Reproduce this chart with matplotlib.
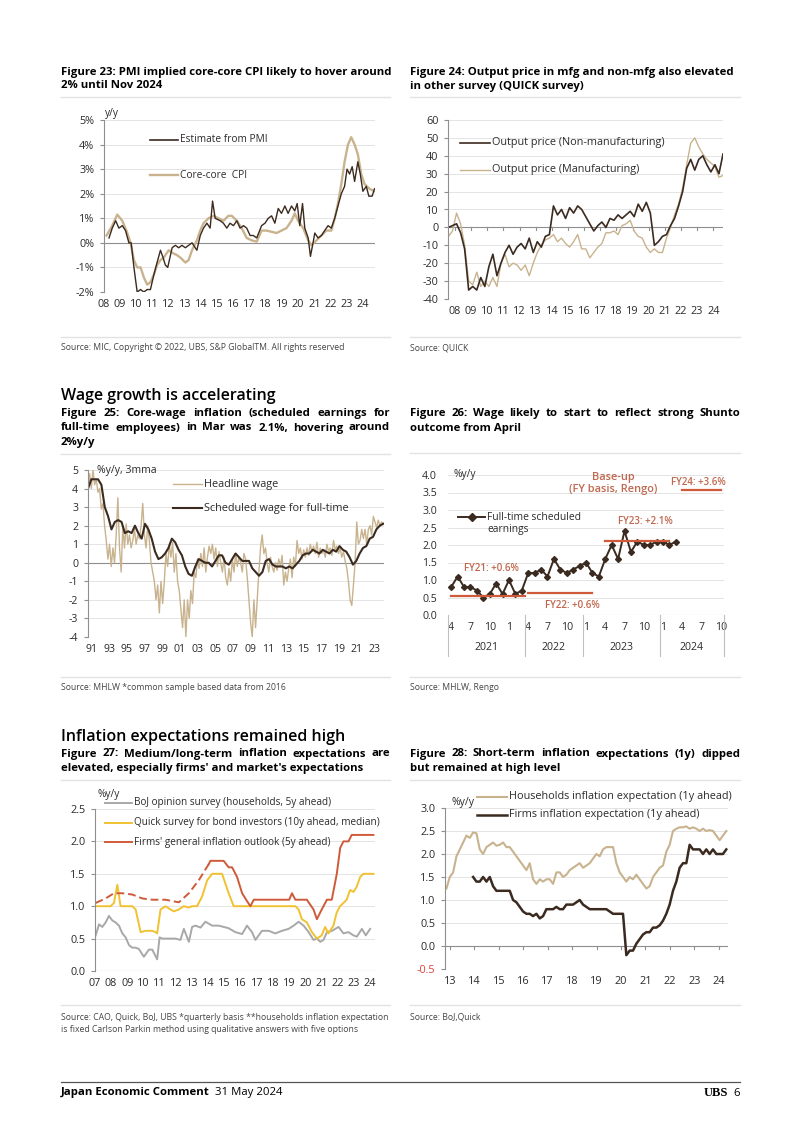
import numpy as np
import matplotlib
matplotlib.use("Agg")
import matplotlib.pyplot as plt
from matplotlib.lines import Line2D
import matplotlib.transforms as mtrans

plt.rcParams['font.family'] = ['Open Sans', 'DejaVu Sans']

# ---------------- data ----------------
# Fig 23: core-core CPI vs PMI estimate (% y/y)
cpi_years = [2008.16, 2008.51, 2008.82, 2009.13, 2009.44, 2009.64, 2009.85, 2010.05, 2010.26, 2010.46,
             2010.67, 2010.87, 2011.08, 2011.28, 2011.49, 2011.69, 2012.0, 2012.21, 2012.51, 2012.72,
             2013.03, 2013.23, 2013.44, 2013.74, 2013.95, 2014.15, 2014.46, 2014.77, 2015.08, 2015.38,
             2015.69, 2015.9, 2016.21, 2016.51, 2016.82, 2017.13, 2017.44, 2017.74, 2018.05, 2018.36,
             2018.67, 2018.97, 2019.28, 2019.59, 2019.79, 2020.0, 2020.31, 2020.62, 2020.82, 2021.13,
             2021.44, 2021.74, 2022.05, 2022.26, 2022.46, 2022.67, 2022.87, 2023.08, 2023.28, 2023.49,
             2023.69, 2023.9, 2024.1, 2024.41, 2024.72]
cpi_vals = [0.3, 0.7, 1.15, 0.9, 0.4, 0.0, -0.7, -1.0, -1.0, -1.4,
            -1.7, -1.6, -1.3, -0.9, -0.7, -0.6, -0.3, -0.4, -0.5, -0.6,
            -0.8, -0.7, -0.3, 0.1, 0.5, 0.8, 1.0, 1.1, 1.0, 0.9,
            1.1, 1.1, 0.9, 0.6, 0.2, 0.1, 0.05, 0.5, 0.5, 0.45,
            0.4, 0.5, 0.6, 0.9, 1.2, 0.9, 0.6, 0.1, -0.1, 0.1,
            0.3, 0.5, 0.5, 1.0, 1.6, 2.4, 3.3, 4.0, 4.3, 4.0,
            3.6, 2.8, 2.4, 2.2, 2.1]
pmi_years = [2008.31, 2008.51, 2008.72, 2008.92, 2009.13, 2009.33, 2009.54, 2009.68, 2009.85, 2010.05,
             2010.26, 2010.46, 2010.67, 2010.87, 2011.08, 2011.28, 2011.49, 2011.65, 2011.79, 2011.94,
             2012.21, 2012.41, 2012.62, 2012.82, 2013.03, 2013.23, 2013.44, 2013.64, 2013.74, 2013.95,
             2014.15, 2014.36, 2014.56, 2014.71, 2014.87, 2015.18, 2015.38, 2015.59, 2015.79, 2016.0,
             2016.21, 2016.41, 2016.62, 2016.82, 2017.03, 2017.23, 2017.44, 2017.74, 2017.95, 2018.15,
             2018.36, 2018.56, 2018.77, 2018.97, 2019.18, 2019.38, 2019.59, 2019.79, 2019.94, 2020.1,
             2020.27, 2020.41, 2020.62, 2020.76, 2020.92, 2021.03, 2021.23, 2021.44, 2021.64, 2021.85,
             2022.05, 2022.26, 2022.46, 2022.67, 2022.87, 2023.02, 2023.18, 2023.34, 2023.49, 2023.69,
             2023.84, 2024.0, 2024.21, 2024.37, 2024.57, 2024.72]
pmi_vals = [0.2, 0.6, 0.9, 0.6, 0.7, 0.5, 0.0, 0.0, -1.0, -2.0,
            -1.9, -2.0, -1.9, -1.9, -1.3, -0.8, -0.3, -0.6, -0.9, -1.0,
            -0.2, -0.1, -0.2, -0.1, -0.2, -0.1, 0.0, -0.2, -0.3, 0.3,
            0.6, 0.8, 0.6, 1.7, 1.0, 0.9, 0.8, 0.6, 0.8, 0.7,
            0.9, 0.6, 0.7, 0.6, 0.3, 0.3, 0.2, 0.7, 0.8, 1.0,
            1.1, 0.8, 1.4, 1.2, 1.5, 1.2, 1.5, 1.3, 1.6, 0.7,
            1.6, 0.6, 0.2, -0.55, 0.0, 0.4, 0.2, 0.3, 0.5, 0.7,
            0.6, 1.0, 1.5, 2.0, 2.3, 3.0, 2.8, 3.1, 2.5, 3.3,
            2.8, 2.1, 2.3, 1.9, 1.9, 2.2]

# Fig 24: QUICK survey output price DI, quarterly from 2007.6
quick_start, quick_end = 2007.6, 2024.6
nonmfg = [0, 1, 2, -3, -12, -35, -33, -35, -28, -33, -22, -15, -27, -20, -14, -10, -15, -11,
          -9, -12, -6, -14, -8, -11, -5, -4, 12, 7, 10, 5, 11, 8, 12, 10, 6, 2, -2, 1, 3, 0,
          5, 4, 7, 5, 7, 9, 6, 13, 9, 14, 8, -10, -8, -5, -4, 1, 5, 12, 20, 33, 38, 32, 38,
          40, 35, 31, 35, 30, 41]
mfg = [-5, -2, 8, 2, -10, -30, -32, -25, -33, -30, -33, -28, -33, -20, -15, -22, -20, -21,
       -24, -21, -27, -20, -14, -10, -7, -6, -4, -8, -6, -9, -11, -8, -4, -12, -12, -17, -14,
       -11, -9, -3, -3, -2, -4, 1, 2, 4, -2, -5, -6, -11, -14, -12, -14, -14, -6, 0, 7, 13,
       22, 35, 47, 50, 45, 41, 38, 36, 34, 28, 29]

# Fig 25: wages (% y/y, 3mma)
wage_start, wage_end = 1990.62, 2024.02
headline = [3.9, 4.8, 4.0, 5.0, 4.2, 4.5, 3.8, 4.0, 2.9, 3.2, 2.0, 1.2, 0.2, 1.0, -0.2, 0.8,
            0.0, 1.5, 3.5, 0.8, -0.5, 2.0, 0.8, 2.1, 1.0, 1.5, 0.8, 1.2, 1.8, 1.0, 1.5, 1.3,
            2.0, 3.2, 1.5, 0.8, 2.0, 1.2, 0.0, -0.5, -1.0, -2.0, -1.2, -2.7, -1.0, -2.2, -1.0,
            0.5, -0.2, 1.0, 0.3, 1.1, -0.5, 0.5, -1.0, -1.5, -2.5, -3.5, -2.0, -4.0, -2.0,
            -3.0, -1.5, -2.2, -0.5, -0.8, 0.2, -0.3, 0.5, -0.2, 0.8, -0.5, 0.3, 0.9, 0.5, 1.0,
            0.2, 0.8, -0.2, 0.6, 0.0, -0.5, 0.3, -0.8, -1.2, -0.3, -1.0, 0.2, -0.5, 0.5, -0.2,
            0.3, 0.0, -0.5, 0.5, 0.2, -0.8, -2.0, -3.2, -4.0, -2.0, -3.5, -2.0, -0.5, 0.8, 1.5,
            0.5, 0.8, 0.0, -0.5, 0.3, -0.2, -0.5, 0.0, -0.4, 0.2, -0.2, 0.4, -1.2, -0.5, -1.0,
            -0.3, 0.2, -0.8, 0.3, -0.2, 1.2, 0.5, 0.8, 0.2, 0.7, 0.3, 0.8, 0.4, 1.0, 0.6, 0.9,
            0.5, 1.1, 0.3, 0.8, 0.5, 0.7, 0.3, 1.0, 0.6, 0.8, 0.4, 1.2, 0.7, 0.9, 0.5, 0.8,
            0.3, 0.6, 0.1, -0.3, -1.0, -2.0, -2.3, -1.2, 0.0, 2.2, 1.0, 1.2, 1.8, 1.3, 1.8,
            1.0, 1.8, 2.0, 1.5, 2.5, 2.2, 1.9, 2.3, 2.0, 2.2, 2.1]
scheduled = [4.0, 4.5, 4.5, 4.5, 4.2, 3.0, 2.5, 1.8, 2.2, 2.3, 2.2, 1.6, 1.7, 1.6, 2.0, 1.6,
             1.3, 2.1, 1.8, 1.3, 0.6, 0.2, 0.3, 0.5, 0.8, 1.3, 1.1, 0.7, 0.4, -0.2, -0.6,
             -0.7, -0.2, 0.2, 0.1, 0.0, 0.0, -0.2, 0.1, 0.4, 0.4, 0.0, -0.1, 0.2, 0.5, 0.3,
             0.1, 0.1, 0.1, -0.3, -0.5, -0.7, -0.5, 0.1, 0.2, -0.1, -0.2, -0.2, -0.2, -0.3,
             -0.2, -0.3, -0.1, 0.1, 0.4, 0.5, 0.5, 0.7, 0.6, 0.5, 0.7, 0.6, 0.5, 0.7, 0.6,
             0.9, 0.7, 0.6, 0.3, -0.1, 0.1, 0.5, 0.8, 0.9, 1.3, 1.4, 1.8, 2.0, 2.1]

# Fig 26: full-time scheduled earnings, Apr 2021 - Mar 2024
ft_earnings = [0.8, 1.1, 0.8, 0.8, 0.7, 0.5, 0.6, 0.9, 0.6, 1.0, 0.6, 0.7,
               1.2, 1.2, 1.3, 1.1, 1.6, 1.3, 1.2, 1.3, 1.4, 1.5, 1.2, 1.1,
               1.6, 2.0, 1.6, 2.4, 1.8, 2.1, 2.0, 2.0, 2.1, 2.1, 2.0, 2.1]
month_ticks = ['4', '7', '10', '1', '4', '7', '10', '1', '4', '7', '10', '1', '4', '7', '10']
year_groups = ['2021', '2022', '2023', '2024']
year_bounds = [-0.5, 11.5, 20.5, 32.5, 42.5]
fy_labels = ['FY21: +0.6%', 'FY22: +0.6%', 'FY23: +2.1%', 'FY24: +3.6%']
fy_values = [0.55, 0.63, 2.12, 3.57]
fy_periods = [(0, 11.5), (12, 22), (24, 34), (36, 42)]

# Fig 27: medium/long-term inflation expectations
boj_years = [2007.04, 2007.25, 2007.45, 2007.66, 2007.86, 2008.07, 2008.27, 2008.48, 2008.69, 2008.89,
             2009.1, 2009.3, 2009.51, 2009.71, 2010.02, 2010.33, 2010.54, 2010.84, 2010.99, 2011.15,
             2011.56, 2011.97, 2012.28, 2012.49, 2012.8, 2013.0, 2013.21, 2013.52, 2013.82, 2014.24,
             2014.65, 2014.95, 2015.26, 2015.67, 2016.09, 2016.39, 2016.7, 2016.91, 2017.32, 2017.73,
             2018.14, 2018.55, 2018.96, 2019.27, 2019.58, 2019.89, 2020.2, 2020.5, 2020.71, 2020.92,
             2021.12, 2021.33, 2021.64, 2022.05, 2022.35, 2022.66, 2022.97, 2023.18, 2023.49, 2023.73,
             2024.0]
boj_vals = [0.55, 0.72, 0.68, 0.75, 0.85, 0.78, 0.75, 0.7, 0.58, 0.52,
            0.4, 0.36, 0.36, 0.34, 0.22, 0.33, 0.33, 0.18, 0.52, 0.5,
            0.5, 0.5, 0.48, 0.65, 0.45, 0.68, 0.7, 0.67, 0.76, 0.7,
            0.7, 0.68, 0.66, 0.6, 0.57, 0.7, 0.6, 0.48, 0.62, 0.62,
            0.58, 0.62, 0.65, 0.7, 0.76, 0.7, 0.6, 0.48, 0.5, 0.45,
            0.48, 0.6, 0.62, 0.68, 0.58, 0.6, 0.55, 0.53, 0.65, 0.55,
            0.65]
quick_years = [2007.04, 2007.97, 2008.17, 2008.38, 2008.58, 2009.3, 2009.51, 2009.82, 2010.13, 2010.54,
               2010.74, 2010.84, 2011.05, 2011.36, 2011.66, 2011.87, 2012.18, 2012.49, 2012.8, 2013.0,
               2013.31, 2013.62, 2013.93, 2014.24, 2014.85, 2015.26, 2015.57, 2019.38, 2019.58, 2019.78,
               2020.09, 2020.4, 2020.71, 2021.01, 2021.22, 2021.42, 2021.73, 2021.93, 2022.14, 2022.35,
               2022.55, 2022.76, 2022.97, 2023.17, 2023.38, 2023.58, 2024.2]
quick_vals = [1.0, 1.0, 1.05, 1.33, 1.0, 1.0, 0.95, 0.6, 0.62, 0.62,
              0.6, 0.58, 0.95, 1.0, 0.95, 0.92, 0.95, 1.0, 0.98, 1.0,
              1.0, 1.15, 1.4, 1.5, 1.5, 1.2, 1.0, 1.0, 0.95, 0.8,
              0.75, 0.6, 0.5, 0.55, 0.68, 0.58, 0.7, 0.9, 1.0, 1.05,
              1.1, 1.25, 1.22, 1.3, 1.45, 1.5, 1.5]
firms_est_years = [2007.04, 2007.66, 2008.17, 2008.69, 2009.3, 2009.92, 2010.54, 2011.36, 2012.18, 2012.8,
                   2013.41, 2014.03]
firms_est_vals = [1.05, 1.12, 1.2, 1.2, 1.18, 1.12, 1.1, 1.1, 1.06, 1.2, 1.4, 1.65]
firms_years = [2014.03, 2014.13, 2014.95, 2015.26, 2015.47, 2015.78, 2016.09, 2016.39, 2016.6, 2016.81,
               2019.0, 2019.17, 2019.38, 2020.09, 2020.5, 2020.71, 2021.01, 2021.33, 2021.63, 2021.94,
               2022.15, 2022.35, 2022.66, 2022.86, 2024.2]
firms_vals = [1.65, 1.7, 1.7, 1.6, 1.6, 1.45, 1.2, 1.08, 1.0, 1.1,
              1.1, 1.2, 1.1, 1.1, 0.95, 0.8, 0.95, 1.1, 1.1, 1.5,
              1.9, 2.0, 2.0, 2.1, 2.1]

# Fig 28: short-term (1y ahead) inflation expectations
hh_start, hh_end = 2012.86, 2024.31
households_1y = [1.25, 1.5, 1.6, 1.95, 2.1, 2.25, 2.4, 2.35, 2.47, 2.45, 2.1, 2.0, 2.15, 2.2, 2.25,
                 2.18, 2.2, 2.25, 2.15, 2.15, 2.05, 1.95, 1.85, 1.75, 1.65, 1.8, 1.45, 1.35, 1.45,
                 1.4, 1.45, 1.45, 1.35, 1.6, 1.6, 1.5, 1.55, 1.65, 1.7, 1.75, 1.8, 1.7, 1.75, 1.8,
                 1.9, 2.0, 1.95, 2.1, 2.15, 2.15, 2.15, 1.8, 1.6, 1.5, 1.4, 1.5, 1.45, 1.55, 1.45,
                 1.35, 1.25, 1.3, 1.5, 1.6, 1.7, 1.75, 2.05, 2.2, 2.5, 2.55, 2.58, 2.58, 2.6, 2.55,
                 2.58, 2.55, 2.5, 2.55, 2.5, 2.52, 2.5, 2.4, 2.3, 2.4, 2.5]
fm_start, fm_end = 2013.95, 2024.31
firms_1y = [1.5, 1.4, 1.4, 1.5, 1.4, 1.5, 1.3, 1.2, 1.2, 1.2, 1.2, 1.2, 1.0, 0.95, 0.85, 0.75,
            0.7, 0.7, 0.65, 0.7, 0.6, 0.65, 0.8, 0.8, 0.8, 0.85, 0.8, 0.8, 0.9, 0.9, 0.9, 0.95,
            1.0, 0.9, 0.85, 0.8, 0.8, 0.8, 0.8, 0.8, 0.8, 0.75, 0.7, 0.7, 0.7, 0.7, -0.2, -0.1,
            -0.1, 0.05, 0.15, 0.25, 0.3, 0.3, 0.4, 0.4, 0.45, 0.55, 0.7, 0.9, 1.2, 1.4, 1.7, 1.8,
            1.8, 2.2, 2.1, 2.1, 2.1, 2.0, 2.1, 2.0, 2.1, 2.0, 2.0, 2.0, 2.1]

# ---------------- styling helpers ----------------
W, H = 802, 1134
DARK = '#3b2a1f'
TAN = '#c8b38e'
GRID = '#e4e4e4'
AXC = '#8f8f8f'
TXT = '#2b2b2b'
RED = '#cf5a3a'
RED_T = '#c0674e'
SRC = '#444444'
TSIZE = 8.2   # figure titles
SSIZE = 6.2   # source notes

fig = plt.figure(figsize=(W / 100, H / 100), dpi=100)
renderer = fig.canvas.get_renderer()


def box(l, t, r, b):
    return fig.add_axes([l / W, 1 - b / H, (r - l) / W, (b - t) / H])


def ftext(x, y, s, **kw):
    kw.setdefault('va', 'center')
    kw.setdefault('color', TXT)
    return fig.text(x / W, 1 - y / H, s, **kw)


def hline(x0, x1, y, color, lw):
    fig.add_artist(Line2D([x0 / W, x1 / W], [1 - y / H, 1 - y / H], color=color, lw=lw,
                          transform=fig.transFigure))


def key(x0, x1, y, label, color, lw, size=7.5, marker=None):
    fig.add_artist(Line2D([x0 / W, x1 / W], [1 - y / H, 1 - y / H], color=color, lw=lw,
                          transform=fig.transFigure))
    if marker:
        fig.add_artist(Line2D([(x0 + x1) / 2 / W], [1 - y / H], color=color, marker=marker,
                              ms=3.6, transform=fig.transFigure))
    ftext(x1 + 2, y, label, fontsize=size)


def justify(x0, x1, y, s, size=TSIZE, weight='bold'):
    words = s.split(' ')
    objs = [ftext(0, y, w, fontsize=size, fontweight=weight, color='black') for w in words]
    widths = [o.get_window_extent(renderer).width for o in objs]
    gap = (x1 - x0 - sum(widths)) / (len(words) - 1)
    x = x0
    for o, w in zip(objs, widths):
        o.set_x(x / W)
        x += w + gap


def title(x, y, s, size=TSIZE):
    ftext(x, y, s, fontsize=size, fontweight='bold', color='black')


def style(ax, ylim, yticks, ylabels, xlim, xticks, xlabels, size=7.8, xpad=5):
    ax.set_xlim(*xlim)
    ax.set_ylim(*ylim)
    ax.set_yticks(yticks)
    ax.set_yticklabels(ylabels)
    ax.set_xticks(xticks)
    ax.set_xticklabels(xlabels)
    for s in ['top', 'right', 'bottom']:
        ax.spines[s].set_visible(False)
    ax.spines['left'].set_color(AXC)
    ax.spines['left'].set_linewidth(0.8)
    ax.tick_params(axis='y', length=3, width=0.8, color=AXC, labelsize=size, labelcolor=TXT, pad=4)
    ax.tick_params(axis='x', length=0, labelsize=size, labelcolor=TXT, pad=xpad)
    ax.grid(axis='y', color=GRID, lw=0.7)
    ax.set_axisbelow(True)
    ax.patch.set_alpha(0)


# ---------------- Figure 23 ----------------
title(61, 72, 'Figure 23: PMI implied core-core CPI likely to hover around')
title(61, 86, '2% until Nov 2024')
hline(61, 390, 97, '#e2e2e2', 1)
ax = box(104, 120, 375, 292)
style(ax, (-2, 5), range(-2, 6), [f'{v}%' for v in range(-2, 6)],
      (2008.1, 2024.75), range(2008, 2025), [f'{y % 100:02d}' for y in range(2008, 2025)])
ax.axhline(0, color=AXC, lw=0.8)
ax.plot(cpi_years, cpi_vals, color=TAN, lw=1.7)
ax.plot(pmi_years, pmi_vals, color=DARK, lw=1.0)
ftext(105, 114, 'y/y', fontsize=7.3)
key(150, 178, 140, 'Estimate from PMI', DARK, 1.2, size=7.3)
key(150, 178, 175, 'Core-core  CPI', TAN, 1.7, size=7.3)
hline(61, 390, 337, '#e2e2e2', 1)
ftext(61, 348, 'Source: MIC, Copyright \u00a9 2022, UBS, S&P GlobalTM. All rights reserved',
      fontsize=SSIZE, color=SRC)

# ---------------- Figure 24 ----------------
title(410, 72, 'Figure 24: Output price in mfg and non-mfg also elevated')
title(410, 86, 'in other survey (QUICK survey)')
hline(410, 740, 97, '#e2e2e2', 1)
ax = box(448, 120, 723, 299)
style(ax, (-40, 60), range(-40, 61, 10), [str(v) for v in range(-40, 61, 10)],
      (2007.57, 2024.6), range(2008, 2025), [f'{y % 100:02d}' for y in range(2008, 2025)])
ax.axhline(0, color=AXC, lw=0.8)
for yr in range(2008, 2025):
    ax.plot([yr, yr], [0, -1.6], color=AXC, lw=0.8)
qx = np.linspace(quick_start, quick_end, len(nonmfg))
ax.plot(qx, mfg, color=TAN, lw=1.0)
ax.plot(qx, nonmfg, color=DARK, lw=1.2)
key(460, 490, 143, 'Output price (Non-manufacturing)', DARK, 1.2, size=7.8)
key(460, 490, 170, 'Output price (Manufacturing)', TAN, 1.0, size=7.8)
hline(410, 740, 337, '#e2e2e2', 1)
ftext(410, 348, 'Source: QUICK', fontsize=SSIZE, color=SRC)

# ---------------- section heading ----------------
ftext(61, 396, 'Wage growth is accelerating', fontsize=11.5, fontweight='semibold', color='black')

# ---------------- Figure 25 ----------------
justify(61, 390, 413, 'Figure 25: Core-wage inflation (scheduled earnings for')
justify(61, 390, 428, 'full-time employees) in Mar was 2.1%, hovering around')
title(61, 443, '2%y/y')
hline(61, 390, 454, '#e2e2e2', 1)
ax = box(88, 470, 384, 637)
style(ax, (-4, 5), range(-4, 6), [str(v) for v in range(-4, 6)],
      (1990.62, 2024.1), range(1991, 2024, 2), [f'{y % 100:02d}' for y in range(1991, 2024, 2)],
      size=7.6)
ax.axhline(0, color=AXC, lw=0.8)
ax.plot(np.linspace(wage_start, wage_end, len(headline)), headline, color=TAN, lw=1.0)
ax.plot(np.linspace(wage_start, 2024.0, len(scheduled)), scheduled, color=DARK, lw=1.5)
ftext(97, 471, '%y/y, 3mma', fontsize=7.6)
key(173, 202, 484, 'Headline wage', TAN, 1.0, size=7.8)
key(173, 202, 508, 'Scheduled wage for full-time', DARK, 1.5, size=7.8)
hline(61, 390, 677, '#e2e2e2', 1)
ftext(61, 688, 'Source: MHLW *common sample based data from 2016', fontsize=SSIZE, color=SRC)

# ---------------- Figure 26 ----------------
justify(410, 740, 413, 'Figure 26: Wage likely to start to reflect strong Shunto')
title(410, 428, 'outcome from April')
hline(410, 740, 453, '#e2e2e2', 1)
ax = box(448, 475, 724, 615)
style(ax, (0, 4), np.arange(0, 4.01, 0.5), [f'{v:.1f}' for v in np.arange(0, 4.01, 0.5)],
      (-0.5, 42.5), range(0, 43, 3), month_ticks, size=7.6, xpad=5)
ax.spines['left'].set_visible(False)
ax.tick_params(axis='y', length=0, pad=8)
ax.axhline(0, color='#bfbfbf', lw=0.8)
months = np.arange(len(ft_earnings))
ax.plot(months, ft_earnings, color=DARK, lw=1.4, marker='D', ms=3.0)
for (s, e), v in zip(fy_periods, fy_values):
    ax.plot([s, e], [v, v], color=RED, lw=1.6)
trans = mtrans.blended_transform_factory(ax.transData, ax.transAxes)
for xb in year_bounds:
    ax.plot([xb, xb], [0, -0.29], color='#bfbfbf', lw=0.8, transform=trans, clip_on=False)
for i, yl in enumerate(year_groups):
    ax.text((year_bounds[i] + year_bounds[i + 1]) / 2, -0.235, yl, transform=trans,
            ha='center', va='center', fontsize=7.6, color=TXT)
fy_pos = [(6.3, 1.33), (18.8, 0.27), (30.3, 2.67), (38.5, 3.78)]
for (x, y), lab in zip(fy_pos, fy_labels):
    ax.text(x, y, lab, ha='center', va='center', fontsize=7, fontweight='semibold', color=RED_T)
ax.text(25.2, 3.76, 'Base-up\n(FY basis, Rengo)', ha='center', va='center', fontsize=7.9,
        fontweight='semibold', color=RED_T, linespacing=1.15)
ax.text(0.4, 4.0, '%y/y', ha='left', va='center', fontsize=7.4, color=TXT)
key(458, 485, 517, 'Full-time scheduled', DARK, 1.4, size=7.4, marker='D')
ftext(487, 530, 'earnings', fontsize=7.4)
hline(410, 740, 677, '#e2e2e2', 1)
ftext(410, 688, 'Source: MHLW, Rengo', fontsize=SSIZE, color=SRC)

# ---------------- section heading ----------------
ftext(61, 737, 'Inflation expectations remained high', fontsize=11.5, fontweight='semibold', color='black')

# ---------------- Figure 27 ----------------
justify(61, 390, 754, 'Figure 27: Medium/long-term inflation expectations are')
title(61, 769, "elevated, especially firms' and market's expectations")
hline(61, 390, 780, '#e2e2e2', 1)
ax = box(95, 809, 375, 971)
style(ax, (0, 2.5), np.arange(0, 2.51, 0.5), [f'{v:.1f}' for v in np.arange(0, 2.51, 0.5)],
      (2007.05, 2024.3), range(2007, 2025), [f'{y % 100:02d}' for y in range(2007, 2025)])
ax.axhline(0, color=AXC, lw=0.8)
ax.plot(boj_years, boj_vals, color='#a8a8a8', lw=1.4)
ax.plot(quick_years, quick_vals, color='#f0c232', lw=1.4)
ax.plot(firms_est_years, firms_est_vals, color=RED, lw=1.4, ls=(0, (4, 2)))
ax.plot(firms_years, firms_vals, color=RED, lw=1.4)
ftext(98, 795, '%y/y', fontsize=7.3)
key(105, 132, 803, 'BoJ opinion survey (households, 5y ahead)', '#a8a8a8', 1.4, size=7.2)
key(105, 132, 823, 'Quick survey for bond investors (10y ahead, median)', '#f0c232', 1.4, size=7.2)
key(105, 132, 842, "Firms' general inflation outlook (5y ahead)", RED, 1.4, size=7.2)
hline(61, 390, 1005, '#e2e2e2', 1)
ftext(61, 1017, 'Source: CAO, Quick, BoJ, UBS *quarterly basis **households inflation expectation',
      fontsize=SSIZE, color=SRC)
ftext(61, 1030, 'is fixed Carlson Parkin method using qualitative answers with five options',
      fontsize=SSIZE, color=SRC)

# ---------------- Figure 28 ----------------
justify(410, 740, 754, 'Figure 28: Short-term inflation expectations (1y) dipped')
title(410, 769, 'but remained at high level')
hline(410, 740, 780, '#e2e2e2', 1)
ax = box(445, 808, 728, 969)
style(ax, (-0.5, 3.0), np.arange(-0.5, 3.01, 0.5), [f'{v:.1f}' for v in np.arange(-0.5, 3.01, 0.5)],
      (2012.8, 2024.38), range(2013, 2025), [f'{y % 100:02d}' for y in range(2013, 2025)])
ax.get_yticklabels()[0].set_color('#e0403a')
ax.axhline(0, color=AXC, lw=0.8)
for yr in range(2013, 2025):
    ax.plot([yr, yr], [0, -0.06], color=AXC, lw=0.8)
ax.plot(np.linspace(hh_start, hh_end, len(households_1y)), households_1y, color=TAN, lw=1.5)
ax.plot(np.linspace(fm_start, fm_end, len(firms_1y)), firms_1y, color=DARK, lw=1.8)
ftext(452, 802, '%y/y', fontsize=7.6)
key(477, 507, 797, 'Households inflation expectation (1y ahead)', TAN, 1.5, size=7.8)
key(477, 507, 815, 'Firms inflation expectation (1y ahead)', DARK, 1.8, size=7.8)
hline(410, 740, 1005, '#e2e2e2', 1)
ftext(410, 1017, 'Source: BoJ,Quick', fontsize=SSIZE, color=SRC)

# ---------------- footer ----------------
hline(61, 740, 1082, '#555555', 0.9)
t = ftext(61, 1093, 'Japan Economic Comment', fontsize=8.2, fontweight='bold', color='black')
wfoot = t.get_window_extent(renderer).width
ftext(61 + wfoot + 5, 1093, '31 May 2024', fontsize=8.2, color='black')
ftext(728, 1093, 'UBS', fontsize=9, fontweight='bold', family='Liberation Serif', ha='right', color='black')
ftext(740, 1093, '6', fontsize=8.2, ha='right', color='black')

fig.savefig('out.png', dpi=100)
